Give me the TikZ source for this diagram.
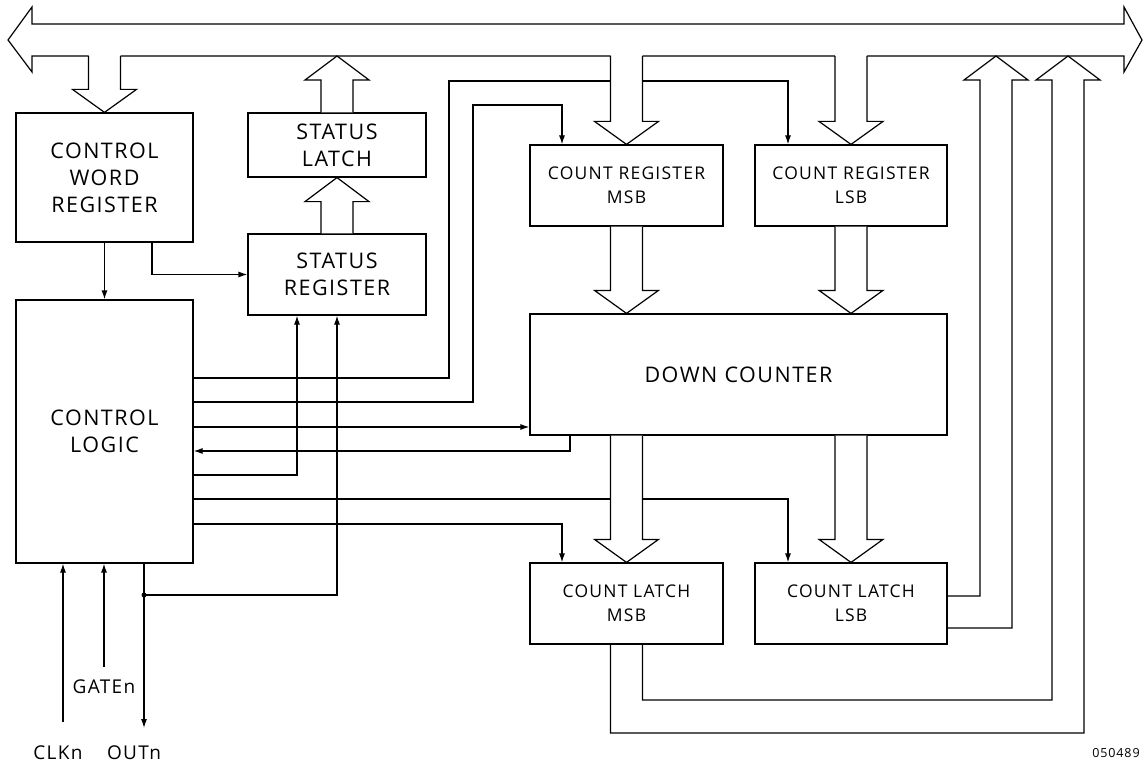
\documentclass[tikz,border=0pt]{standalone}
\usepackage{fontspec}
\setmainfont{Open Sans}[LetterSpace=7]
\usetikzlibrary{arrows.meta,calc}
\tikzset{
  blk/.style={draw,line width=1.2pt,align=center,inner sep=0pt,font=\fontsize{21.5}{27}\selectfont},
  blksmall/.style={blk,font=\fontsize{17.5}{24}\selectfont},
  wire/.style={line width=1.2pt},
  sig/.style={wire,-{Latex[length=9pt,width=6pt]}},
  fat/.style={line width=1.2pt,line join=miter},
  pinlbl/.style={font=\fontsize{19}{24}\selectfont,inner sep=1pt},
}
% wide data-path arrows: optional overlap, start, tip
\newcommand{\fatdown}[3][0pt]{%
  \fill[white] let \p1=(#2),\p2=(#3) in
    (\x2-16pt,\y1+#1) -- (\x2-16pt,\y2+23pt) -- (\x2-32pt,\y2+23pt) -- (\x2,\y2)
    -- (\x2+32pt,\y2+23pt) -- (\x2+16pt,\y2+23pt) -- (\x2+16pt,\y1+#1) -- cycle;
  \draw[fat] let \p1=(#2),\p2=(#3) in
    (\x2-16pt,\y1) -- (\x2-16pt,\y2+23pt) -- (\x2-32pt,\y2+23pt) -- (\x2,\y2)
    -- (\x2+32pt,\y2+23pt) -- (\x2+16pt,\y2+23pt) -- (\x2+16pt,\y1);}
\newcommand{\fatup}[2]{%
  \fill[white] let \p1=(#1),\p2=(#2) in
    (\x2-16pt,\y1) -- (\x2-16pt,\y2-24pt) -- (\x2-32pt,\y2-24pt) -- (\x2,\y2)
    -- (\x2+32pt,\y2-24pt) -- (\x2+16pt,\y2-24pt) -- (\x2+16pt,\y1) -- cycle;
  \draw[fat] let \p1=(#1),\p2=(#2) in
    (\x2-16pt,\y1) -- (\x2-16pt,\y2-24pt) -- (\x2-32pt,\y2-24pt) -- (\x2,\y2)
    -- (\x2+32pt,\y2-24pt) -- (\x2+16pt,\y2-24pt) -- (\x2+16pt,\y1);}

\begin{document}
\begin{tikzpicture}[x=1pt,y=-1pt,>=Latex]
 \useasboundingbox (0,0) rectangle (1143,765);
 % data bus
 \draw[fat] (32,24) -- (32,7) -- (8,40) -- (32,72) -- (32,56) -- (1124,56)
   -- (1124,72) -- (1142,40) -- (1124,7) -- (1124,24) -- cycle;
 \coordinate (busb) at (0,56);
 % blocks
 \node[blk,minimum width=177pt,minimum height=129pt] (cwr) at (104.5,177.5) {CONTROL\\WORD\\REGISTER};
 \node[blk,minimum width=177pt,minimum height=263pt] (cl) at (104.5,431.5) {CONTROL\\LOGIC};
 \node[blk,minimum width=178pt,minimum height=64pt] (sl) at (337,145) {STATUS\\LATCH};
 \node[blk,minimum width=178pt,minimum height=81pt] (sr) at (337,274.5) {STATUS\\REGISTER};
 \node[blksmall,minimum width=193pt,minimum height=81pt] (crm) at (626.5,185.5) {COUNT REGISTER\\MSB};
 \node[blksmall,minimum width=192pt,minimum height=81pt] (crl) at (851,185.5) {COUNT REGISTER\\LSB};
 \node[blk,minimum width=417pt,minimum height=121pt] (dc) at (738.5,374.5) {DOWN COUNTER};
 \node[blksmall,minimum width=193pt,minimum height=81pt] (clm) at (626.5,603.5) {COUNT LATCH\\MSB};
 \node[blksmall,minimum width=192pt,minimum height=81pt] (cll) at (851,603.5) {COUNT LATCH\\LSB};
 % control word register outputs
 \draw[sig] (cwr.south) -- (cl.north);
 \draw[sig] ([xshift=47.5pt]cwr.south) |- (sr.west);
 % control logic lines
 \draw[sig] (cl.east |- 0,378) -| (449,81) -| ([xshift=-63pt]crl.north);
 \draw[sig] (cl.east |- 0,402) -| (473,105) -| ([xshift=-64.5pt]crm.north);
 \draw[sig] (cl.east |- 0,427) -- (dc.west |- 0,427);
 \draw[sig] ([xshift=-168.5pt]dc.south) |- (cl.east |- 0,451);
 \draw[sig] (cl.east |- 0,475) -| ([xshift=-40pt]sr.south);
 \draw[sig] (cl.east |- 0,499) -| ([xshift=-63pt]cll.north);
 \draw[sig] (cl.east |- 0,524) -| ([xshift=-64.5pt]clm.north);
 % counter pins
 \coordinate (clkin) at (63,722);
 \coordinate (gatein) at (104,667);
 \coordinate (outend) at (144,728);
 \coordinate (tap) at (144,595);
 \draw[sig] (clkin) -- (cl.south -| clkin);
 \draw[sig] (gatein) -- (cl.south -| gatein);
 \draw[sig] (cl.south -| outend) -- (outend);
 \draw[sig] (tap) -| (sr.south);
 \fill (tap) circle (2.5pt);
 \node[pinlbl] (clk) at (58,753) {CLKn};
 \node[pinlbl] (gate) at (104,687) {GATEn};
 \node[pinlbl] (out) at (134,753) {OUTn};
 \node[font=\fontsize{12.5}{15}\selectfont,inner sep=0pt] (fig) at (1116,753) {050489};
 % wide arrows
 \fatdown[1pt]{busb}{cwr.north}
 \fatup{sl.north}{sl.north |- busb}
 \fatup{sr.north}{sl.south}
 \fatdown[1pt]{busb}{crm.north}
 \fatdown[1pt]{busb}{crl.north}
 \fatdown{crm.south}{crm.south |- dc.north}
 \fatdown{crl.south}{crl.south |- dc.north}
 \fatdown{dc.south}{clm.north}
 \fatdown{dc.south}{cll.north}
 % latches back to the bus
 \draw[fat] (cll.east |- 0,596) -| (980,80) -- (964,80) -- (996,56) -- (1028,80)
   -- (1012,80) |- (cll.east |- 0,628);
 \draw[fat] ([xshift=16pt]clm.south) |- (1052,700) -- (1052,80) -- (1036,80)
   -- (1068,56) -- (1100,80) -- (1084,80) -- (1084,733) -| ([xshift=-16pt]clm.south);
\end{tikzpicture}
\end{document}
